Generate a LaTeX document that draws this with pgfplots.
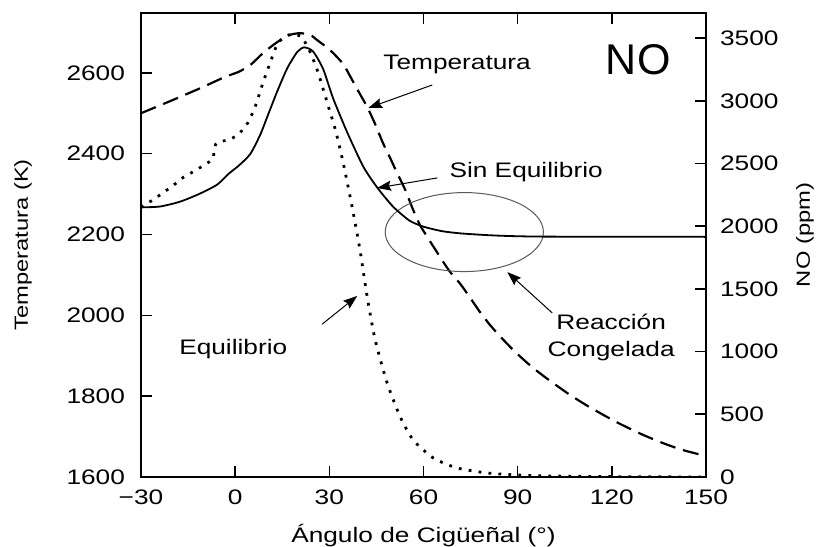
\documentclass[border=0pt]{standalone}
\usepackage{pgfplots}
\pgfplotsset{compat=1.18}
\usepackage{fontspec}
\setmainfont{Liberation Sans}
\newfontfamily\wide{Liberation Sans}[FakeStretch=1.25]
\usetikzlibrary{arrows.meta}

\begin{document}
\begin{tikzpicture}
\pgfplotsset{
  base/.style={
    scale only axis, width=282.5pt, height=232pt,
    xmin=-30, xmax=150,
    axis line style={line width=0.8pt},
    tick align=inside, major tick length=5.5pt,
    major tick style={black, line width=0.8pt},
    /pgf/number format/assume math mode=true,
    /pgf/number format/1000 sep={},
    ticklabel style={font=\wide\fontsize{10.5}{12}\selectfont},
  },
}
\tikzset{
  arr/.style={-{Stealth[length=7pt,width=5pt,inset=1pt]}, line width=0.5pt},
  lbl/.style={anchor=base, font=\wide\fontsize{10.5}{12}\selectfont},
}
% temperatura (eje izquierdo)
\begin{axis}[base, name=main,
  ymin=1600, ymax=2748,
  xtick={-30,0,30,60,90,120,150},
  xticklabels={−30,0,30,60,90,120,150},
  xtick pos=both, xticklabel pos=lower,
  xticklabel style={yshift=-3pt},
  ytick={1600,1800,...,2600}, ytick pos=left,
  yticklabel style={xshift=-4.5pt},
  xlabel={Ángulo de Cigüeñal (°)},
  xlabel style={at={(axis description cs:0.5,-0.1422)}, anchor=base,
    font=\wide\fontsize{10.5}{12}\selectfont},
  ylabel={Temperatura (K)},
  ylabel style={at={(axis description cs:-0.2088,0.5)}, anchor=center,
    font=\wide\fontsize{9.5}{11}\selectfont},
]
\addplot[black, line width=1.1pt, dash pattern=on 8pt off 4pt, smooth, tension=0.4] coordinates {
(-30,2500) (-20.7,2530) (-11.1,2562) (-3.2,2590) (1.0,2602) (4.8,2619)
(8.9,2649) (13.4,2676) (17.5,2694) (20.7,2698) (23.9,2694) (26.1,2681)
(28.7,2666) (31.2,2649) (34.4,2622) (36.6,2592) (39.2,2555) (42.1,2515)
(44.6,2473) (47.1,2426) (49.4,2389) (51.6,2352) (54.2,2310) (56.7,2261)
(58.9,2223) (61.2,2194) (65.3,2144) (68.5,2107) (71.7,2078) (74.9,2043)
(78.0,2008) (81.2,1976) (84.4,1948) (87.6,1922) (90.8,1898) (94.9,1870)
(100.3,1838) (106.7,1803) (113.1,1772) (121.7,1735) (130.0,1704)
(137.6,1680) (143.4,1665) (150,1652)
};
\draw[gray!70!black, line width=0.5pt] (axis cs:73,2206) ellipse [x radius=25.2, y radius=97.7];
\node[lbl] at (axis cs:70.7,2607) {Temperatura};
\draw[arr] (axis cs:62.8,2570) -- (axis cs:42.4,2513);
\node[lbl] at (axis cs:92.7,2340) {Sin Equilibrio};
\draw[arr] (axis cs:64.4,2340) -- (axis cs:45.2,2315);
\node[lbl] at (axis cs:119.8,1964) {Reacción};
\node[lbl] at (axis cs:119.8,1899) {Congelada};
\draw[arr] (axis cs:101,2006) -- (axis cs:86.7,2107);
\node[lbl] at (axis cs:-0.6,1902) {Equilibrio};
\draw[arr] (axis cs:27.7,1978) -- (axis cs:38.9,2048);
\node[anchor=base, font=\fontsize{21.5}{24}\selectfont] at (axis cs:128.4,2597) {NO};
\end{axis}
% NO (eje derecho)
\begin{axis}[base,
  ymin=0, ymax=3700,
  axis x line=none, axis y line*=right,
  ytick={0,500,...,3500},
  yticklabel style={xshift=3.5pt},
  ylabel={NO (ppm)},
  ylabel style={at={(axis description cs:1.175,0.5216)}, anchor=center,
    font=\wide\fontsize{9.5}{11}\selectfont},
]
\addplot[black, line width=0.9pt, smooth, tension=0.4] coordinates {
(-30,2150) (-23.9,2157) (-17.5,2196) (-11.2,2260) (-5.7,2332) (-2.0,2420)
(1.0,2480) (4.8,2575) (8.0,2730) (10.5,2890) (13.4,3075) (16.6,3260)
(19.8,3390) (22.0,3426) (24.8,3394) (28.0,3255) (31.2,3020) (35.7,2748)
(40.8,2476) (45.2,2310) (50.3,2156) (55.5,2045) (59.9,1997) (66,1960)
(72.6,1941) (83.5,1925) (98.1,1917) (150,1915)
};
\addplot[black, line width=1.4pt, dash pattern=on 1.4pt off 3.6pt, smooth, tension=0.4] coordinates {
(-30,2150) (-26.1,2212) (-22.9,2268) (-19.8,2324) (-16.6,2388) (-12.7,2444)
(-8.6,2508) (-7.0,2540) (-6.7,2615) (-5.7,2668) (-1.6,2692) (1.6,2748)
(4.1,2827) (6.4,2955) (8.9,3147) (11.2,3307) (13.4,3450) (15.9,3514)
(18.5,3530) (21.3,3506) (23.9,3387) (26.4,3227) (29.3,2987) (31.9,2771)
(34.4,2508) (37.6,2109) (39.8,1805) (42.1,1430) (44.6,1094) (48.4,751)
(52.6,479) (56.7,296) (63.1,152) (70.7,72) (80.3,32) (89.8,16) (100,8)
(120,3) (150,0)
};
\end{axis}
\pgfresetboundingbox
\path[use as bounding box] ([xshift=-70.5pt,yshift=-34.5pt]main.south west)
  rectangle ([xshift=56pt,yshift=6.5pt]main.north east);
\end{tikzpicture}
\end{document}
